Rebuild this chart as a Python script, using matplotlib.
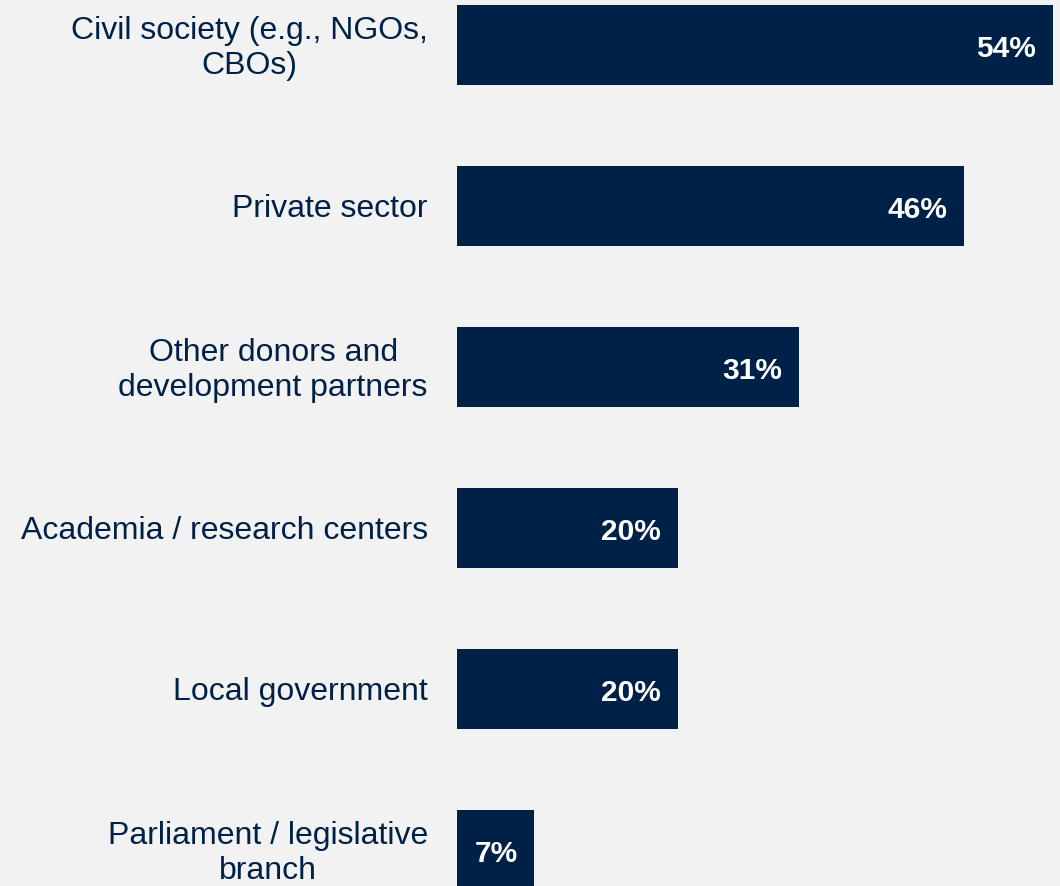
import matplotlib.pyplot as plt

categories = ['Civil society (e.g., NGOs,\nCBOs)', 'Private sector',
              'Other donors and\ndevelopment partners', 'Academia / research centers',
              'Local government', 'Parliament / legislative\nbranch']
values = [54, 46, 31, 20, 20, 7]

navy = '#002147'
bg = '#F2F2F2'

plt.rcParams['font.family'] = ['Liberation Sans', 'DejaVu Sans']

fig = plt.figure(figsize=(10.6, 8.87), dpi=100, facecolor=bg)
ax = fig.add_axes([457 / 1060, 0, 603 / 1060, 1])
ax.set_facecolor(bg)

pos = list(range(len(values)))
ax.barh(pos, values, height=0.5, color=navy)

ax.set_xlim(0, 603 / 11.03)
ax.set_ylim((887 - 46) / 161, -46 / 161)
ax.set_xticks([])
ax.set_yticks([])
for s in ax.spines.values():
    s.set_visible(False)

# category names to the left of the bars
for p, name in zip(pos, categories):
    ax.annotate(name, xy=(0, p), xytext=(-21, -1.5), textcoords='offset points',
                ha='right', va='center', multialignment='center', linespacing=1.22,
                fontsize=23, color=navy, annotation_clip=False)

# value labels sit inside the bar end
for p, v in zip(pos, values):
    ax.annotate(f'{v}%', xy=(v, p), xytext=(-12, -2), textcoords='offset points',
                ha='right', va='center', color='white', fontsize=21.5, fontweight='bold')

fig.savefig('out.png', dpi=100, facecolor=bg)
